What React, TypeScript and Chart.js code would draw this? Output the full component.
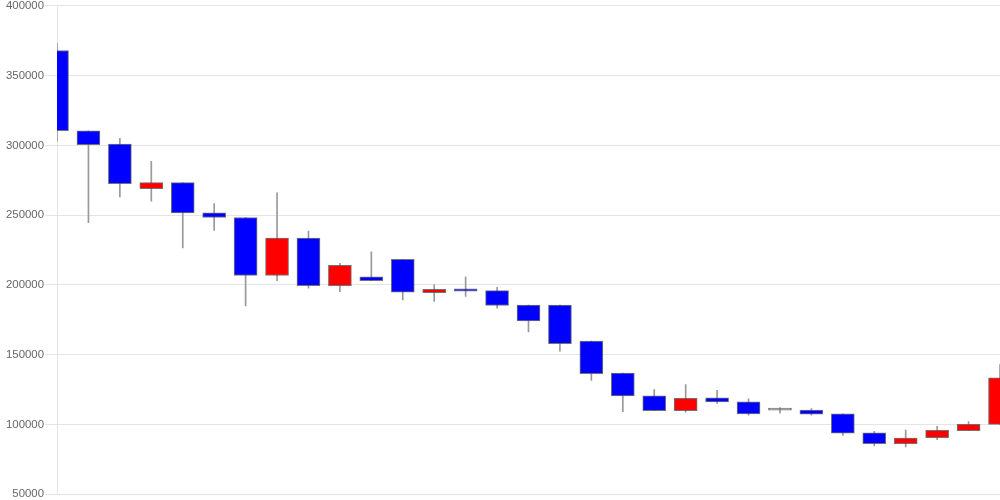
import React, { useEffect, useRef } from "react";
import { Chart, registerables } from "chart.js";

Chart.register(...registerables);

const categories: string[] = Array.from({ length: 31 }, (_, i) => String(i + 1));

const openValues: number[] = [
  368000, 310500, 301000, 269000, 273300, 251600, 248300, 206700, 233600, 199500,
  205700, 218300, 194500, 197100, 195900, 185500, 185500, 159800, 136700, 120500,
  109800, 119100, 116200, 110200, 110200, 107600, 94000, 86200, 90500, 95500, 100000,
];
const highValues: number[] = [
  373000, 310500, 305000, 288500, 273300, 258300, 248300, 266000, 238600, 215500,
  223600, 218300, 200200, 205700, 198300, 185500, 185500, 159800, 136700, 125000,
  128600, 124500, 118400, 112100, 111400, 107600, 95000, 95900, 98600, 102100, 142900,
];
const lowValues: number[] = [
  303000, 244500, 263000, 260000, 226500, 239000, 185000, 203000, 197600, 195200,
  203100, 189300, 188100, 191700, 183300, 166200, 152400, 131600, 109100, 109800,
  108800, 115000, 106600, 108100, 106600, 92100, 84500, 83800, 89100, 95500, 100000,
];
const closeValues: number[] = [
  310500, 300500, 272500, 273300, 251500, 248300, 206700, 233600, 199500, 214000,
  203100, 194800, 196900, 195500, 185200, 174100, 157900, 136400, 120500, 109800,
  118600, 116200, 107600, 110200, 107400, 93800, 86200, 90200, 95700, 100000, 133400,
];

const yTicks: number[] = [50000, 100000, 150000, 200000, 250000, 300000, 350000, 400000];

export default function App() {
  const canvasRef = useRef<HTMLCanvasElement | null>(null);

  useEffect(() => {
    if (!canvasRef.current) return;
    const bodies = openValues.map((o, i) => [o, closeValues[i]]);
    const wicks = lowValues.map((l, i) => [l, highValues[i]]);
    const bodyColors = openValues.map((o, i) =>
      closeValues[i] > o ? "#ff0000" : closeValues[i] < o ? "#0000ff" : "#888888"
    );
    const chart = new Chart(canvasRef.current, {
      type: "bar",
      data: {
        labels: categories,
        datasets: [
          {
            label: "body",
            data: bodies as any,
            backgroundColor: bodyColors,
            borderColor: "rgba(80,80,80,0.8)",
            borderWidth: 1,
            borderSkipped: false,
            barThickness: 23,
            minBarLength: 2,
            grouped: false,
            clip: 0,
            order: 0,
          } as any,
          {
            label: "wick",
            data: wicks as any,
            backgroundColor: "#999999",
            borderWidth: 0,
            barThickness: 1,
            grouped: false,
            clip: 0,
            order: 1,
          } as any,
        ],
      },
      options: {
        animation: false,
        responsive: true,
        maintainAspectRatio: false,
        plugins: {
          legend: { display: false },
          tooltip: { enabled: false },
        },
        layout: { padding: { left: 5, top: 0, right: 0, bottom: 0 } },
        scales: {
          x: {
            display: false,
            offset: false,
            grid: { display: false, offset: false },
          },
          y: {
            min: yTicks[0],
            max: yTicks[yTicks.length - 1],
            ticks: {
              stepSize: 50000,
              color: "#666",
              padding: 1,
              font: { size: 11.4 },
              callback: (v: any) => String(v),
            },
            grid: { color: "rgba(0,0,0,0.1)", tickLength: 12 },
          },
        },
      },
    });
    return () => chart.destroy();
  }, []);

  return (
    <div style={{ position: "fixed", left: 0, top: -2, width: 1000, height: 504, background: "#fff" }}>
      <canvas ref={canvasRef} />
    </div>
  );
}
